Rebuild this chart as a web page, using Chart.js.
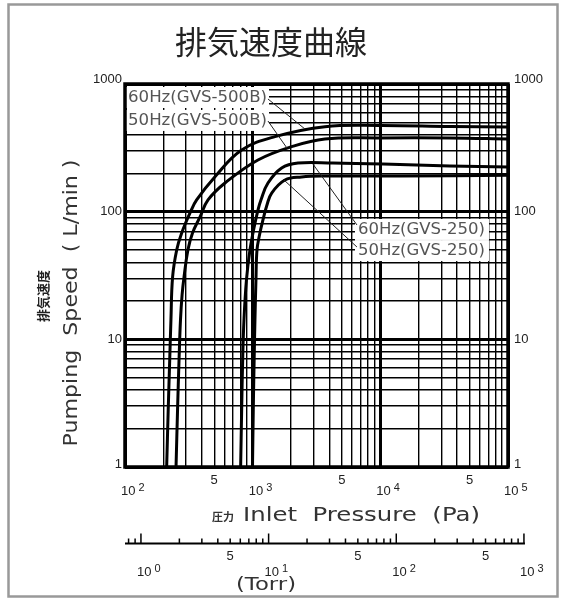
<!DOCTYPE html>
<html><head><meta charset="utf-8">
<script src="https://cdn.jsdelivr.net/npm/chart.js@4.4.0/dist/chart.umd.min.js"></script>
<style>html,body{margin:0;padding:0;background:#fff;}canvas{display:block}</style>
</head><body>
<canvas id="c" width="567" height="602"></canvas>
<script>
// ---- data (Pa, L/min) ----
const p60_500B = [212, 218, 224, 229, 236, 254, 278, 323, 364, 507, 820, 1495, 3683, 9930, 35080, 100000];
const s60_500B = [1, 2.8, 6.9, 14.2, 30.8, 50.1, 68.1, 97.7, 123.5, 188, 304, 387, 463, 474, 465, 460];
const p50_500B = [251, 258, 265, 272, 280, 290, 311, 338, 387, 447, 607, 1100, 2020, 3683, 9930, 35080, 100000];
const s50_500B = [1, 2.8, 6.9, 14.2, 22.3, 30.8, 50.1, 68.1, 90.9, 123.5, 167.7, 254, 323, 371, 378, 378, 371];
const p60_250 = [805, 820, 835, 855, 894, 952, 1024, 1100, 1161, 1318, 1687, 2264, 4254, 10480, 35080, 100000];
const s60_250 = [1, 2.8, 6.9, 14.2, 29.2, 50.1, 74.5, 103, 123.5, 167.7, 220, 240.6, 240.6, 236.3, 228, 224];
const p50_250 = [997, 1011, 1027, 1042, 1061, 1081, 1131, 1204, 1294, 1409, 1791, 2420, 3683, 14240, 100000];
const s50_250 = [1, 2.8, 6.9, 14.2, 29.2, 50.1, 65.7, 86.1, 112.8, 140, 177, 187, 190, 190, 193];
const seriesNames = ['60Hz(GVS-500B)', '50Hz(GVS-500B)', '60Hz(GVS-250)', '50Hz(GVS-250)'];

const xGrid = [100,200,300,400,500,600,700,800,900,1000,2000,3000,4000,5000,6000,7000,8000,9000,
  10000,20000,30000,40000,50000,60000,70000,80000,90000,100000];
const yGrid = [1,2,3,4,5,6,7,8,9,10,20,30,40,50,60,70,80,90,100,200,300,400,500,600,700,800,900,1000];
const yTickLabels = ['1', '10', '100', '1000'];
const yTickValues = [1, 10, 100, 1000];
const paDecadeValues = [100, 1000, 10000, 100000];
const paDecadeExp = ['2', '3', '4', '5'];
const paFiveValues = [500, 5000, 50000];
const torrTicks = [0.8,0.9,1,2,3,4,5,6,7,8,9,10,20,30,40,50,60,70,80,90,100,200,300,400,500,600,700,800,900,1000];
const torrDecadeValues = [1, 10, 100, 1000];
const torrDecadeExp = ['0', '1', '2', '3'];
const torrFiveValues = [5, 50, 500];
const PA_PER_TORR = 133.322;

// ---- annotation layout (data coordinates) ----
const labelAnchors = [
  {p: 105.6, s: 791, lead: [[1318, 763], [2568, 444]]},
  {p: 105.6, s: 523, lead: [[1318, 513], [1856, 315]]},
  {p: 6683, s: 73.2, lead: [[6557, 78.7], [2965, 236]]},
  {p: 6683, s: 50, lead: [[6557, 52.9], [1727, 180]]}
];

const zip = (ps, ss) => ps.map((p, i) => ({x: p, y: ss[i]}));
const isPow10 = v => Math.abs(Math.log10(v) - Math.round(Math.log10(v))) < 1e-9;

function fitText(ctx, text, x, y, width, align) {
  const w = ctx.measureText(text).width;
  const k = width / w;
  ctx.save();
  ctx.translate(x, y);
  ctx.scale(k, 1);
  ctx.textAlign = align || 'left';
  ctx.fillText(text, 0, 0);
  ctx.restore();
}

function drawPow(ctx, x, exp, baseY) {
  ctx.font = '13px "Liberation Sans", Arial, sans-serif';
  ctx.textAlign = 'left';
  ctx.textBaseline = 'alphabetic';
  ctx.fillText('10', x - 4, baseY);
  const w = ctx.measureText('10').width;
  ctx.font = '11px "Liberation Sans", Arial, sans-serif';
  ctx.fillText(exp, x - 4 + w + 3, baseY - 4);
}

const decor = {
  id: 'decor',
  beforeDatasetsDraw(chart) {
    const {ctx, scales: {x, y}} = chart;
    ctx.save();
    labelAnchors.forEach((a, i) => {
      const px = x.getPixelForValue(a.p), py = y.getPixelForValue(a.s);
      ctx.fillStyle = '#fff';
      ctx.fillRect(px - 3, py - 10, i < 2 ? 144 : 134, 21);
    });
    ctx.restore();
  },
  afterDatasetsDraw(chart) {
    const {ctx, chartArea: ca, scales: {x, y}} = chart;
    ctx.save();
    ctx.strokeStyle = '#222';
    ctx.lineWidth = 1;
    labelAnchors.forEach(a => {
      ctx.beginPath();
      ctx.moveTo(x.getPixelForValue(a.lead[0][0]), y.getPixelForValue(a.lead[0][1]));
      ctx.lineTo(x.getPixelForValue(a.lead[1][0]), y.getPixelForValue(a.lead[1][1]));
      ctx.stroke();
    });
    ctx.fillStyle = '#555';
    ctx.font = '16px "DejaVu Sans", sans-serif';
    ctx.textBaseline = 'middle';
    labelAnchors.forEach((a, i) => {
      const px = x.getPixelForValue(a.p), py = y.getPixelForValue(a.s);
      fitText(ctx, seriesNames[i], px, py + 1, i < 2 ? 139 : 127, 'left');
    });
    ctx.strokeStyle = '#000';
    ctx.lineWidth = 3.5;
    ctx.strokeRect(ca.left, ca.top, ca.right - ca.left, ca.bottom - ca.top);
    ctx.restore();
  },
  afterDraw(chart) {
    const {ctx, chartArea: ca, scales: {x, y}} = chart;
    ctx.save();
    ctx.fillStyle = '#222';
    ctx.font = '13px "Liberation Sans", Arial, sans-serif';
    ctx.textBaseline = 'middle';
    yTickValues.forEach((v, i) => {
      let py = y.getPixelForValue(v);
      if (v === 1000) py -= 5;
      if (v === 1) py -= 3;
      ctx.textAlign = 'right';
      ctx.fillText(yTickLabels[i], ca.left - 3, py);
      ctx.textAlign = 'left';
      ctx.fillText(yTickLabels[i], ca.right + 6, py);
    });
    paDecadeValues.forEach((v, i) => drawPow(ctx, x.getPixelForValue(v), paDecadeExp[i], ca.bottom + 28));
    ctx.font = '13px "Liberation Sans", Arial, sans-serif';
    ctx.textAlign = 'center';
    ctx.textBaseline = 'alphabetic';
    paFiveValues.forEach(v => ctx.fillText('5', x.getPixelForValue(v), ca.bottom + 17));
    ctx.fillStyle = '#333';
    ctx.font = 'bold 11px "Noto Sans CJK JP", sans-serif';
    ctx.textAlign = 'left';
    ctx.textBaseline = 'middle';
    ctx.fillText('圧力', 212, 517);
    ctx.font = '19px "DejaVu Sans", sans-serif';
    fitText(ctx, 'Inlet  Pressure  (Pa)', 243, 516, 237, 'left');
    const ty = 543.5;
    const tx0 = x.getPixelForValue(100), tx1 = x.getPixelForValue(1000 * PA_PER_TORR);
    ctx.strokeStyle = '#000';
    ctx.lineWidth = 2;
    ctx.beginPath(); ctx.moveTo(tx0, ty); ctx.lineTo(tx1 + 1, ty); ctx.stroke();
    ctx.lineWidth = 1.5;
    torrTicks.forEach(t => {
      const px = x.getPixelForValue(t * PA_PER_TORR);
      const h = isPow10(t) ? 10 : 5;
      ctx.beginPath(); ctx.moveTo(px, ty); ctx.lineTo(px, ty - h); ctx.stroke();
    });
    ctx.fillStyle = '#222';
    torrDecadeValues.forEach((t, i) => drawPow(ctx, x.getPixelForValue(t * PA_PER_TORR), torrDecadeExp[i], 576));
    ctx.font = '13px "Liberation Sans", Arial, sans-serif';
    ctx.textAlign = 'center';
    torrFiveValues.forEach(t => ctx.fillText('5', x.getPixelForValue(t * PA_PER_TORR), 560));
    ctx.fillStyle = '#333';
    ctx.font = '18px "DejaVu Sans", sans-serif';
    ctx.textBaseline = 'middle';
    fitText(ctx, '(Torr)', 266, 585, 60, 'center');
    ctx.save();
    ctx.translate(72, 303);
    ctx.rotate(-Math.PI / 2);
    ctx.font = '20px "DejaVu Sans", sans-serif';
    fitText(ctx, 'Pumping  Speed  ( L/min )', 0, 0, 287, 'center');
    ctx.restore();
    ctx.save();
    ctx.translate(43, 296);
    ctx.rotate(-Math.PI / 2);
    ctx.font = 'bold 13px "Noto Sans CJK JP", sans-serif';
    ctx.textAlign = 'center';
    ctx.textBaseline = 'middle';
    ctx.fillStyle = '#222';
    ctx.fillText('排気速度', 0, 0);
    ctx.restore();
    ctx.fillStyle = '#222';
    ctx.font = '32px "Noto Sans CJK JP", sans-serif';
    ctx.textAlign = 'center';
    ctx.textBaseline = 'middle';
    ctx.fillText('排気速度曲線', 271, 42);
    ctx.strokeStyle = '#999';
    ctx.lineWidth = 2.5;
    ctx.strokeRect(8.5, 4.5, 549, 592);
    ctx.restore();
  }
};

const lineStyle = {borderColor: '#000', borderWidth: 3, pointRadius: 0, fill: false, tension: 0.4};

new Chart(document.getElementById('c'), {
  type: 'line',
  data: {
    datasets: [
      Object.assign({label: seriesNames[0], data: zip(p60_500B, s60_500B)}, lineStyle),
      Object.assign({label: seriesNames[1], data: zip(p50_500B, s50_500B)}, lineStyle),
      Object.assign({label: seriesNames[2], data: zip(p60_250, s60_250)}, lineStyle),
      Object.assign({label: seriesNames[3], data: zip(p50_250, s50_250)}, lineStyle)
    ]
  },
  options: {
    responsive: false,
    animation: false,
    devicePixelRatio: 1,
    layout: {padding: {left: 125, right: 59, top: 84, bottom: 135}},
    plugins: {legend: {display: false}, tooltip: {enabled: false}},
    scales: {
      x: {
        type: 'logarithmic', min: 100, max: 100000,
        afterBuildTicks: s => { s.ticks = xGrid.map(v => ({value: v})); },
        ticks: {display: false},
        grid: {color: '#000', lineWidth: c => (c.tick && isPow10(c.tick.value)) ? 3 : 1.4, drawTicks: false},
        border: {display: false}
      },
      y: {
        type: 'logarithmic', min: 1, max: 1000,
        afterBuildTicks: s => { s.ticks = yGrid.map(v => ({value: v})); },
        ticks: {display: false},
        grid: {color: '#000', lineWidth: c => (c.tick && isPow10(c.tick.value)) ? 3 : 1.4, drawTicks: false},
        border: {display: false}
      }
    }
  },
  plugins: [decor]
});
</script>
</body></html>
